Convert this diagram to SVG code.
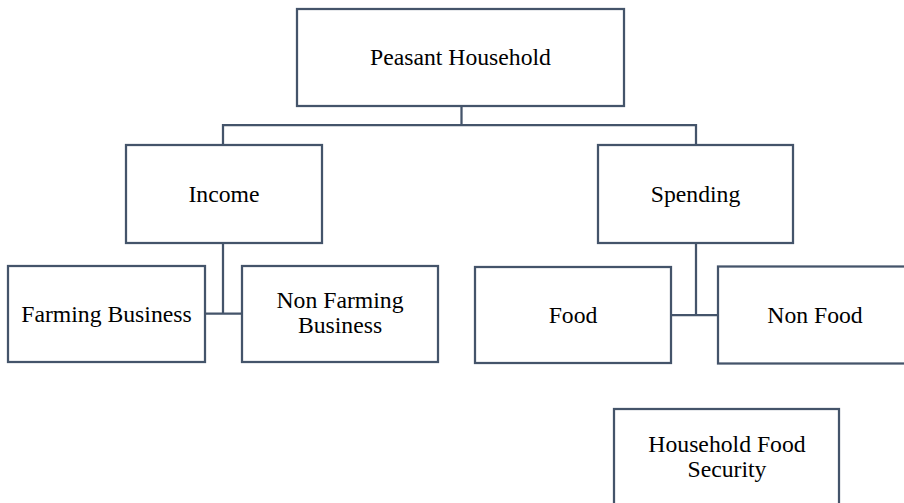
<svg xmlns="http://www.w3.org/2000/svg" width="904" height="503" viewBox="0 0 904 503">
<style>
.box{fill:#ffffff;stroke:#44546a;stroke-width:2.25}
.ln{fill:none;stroke:#44546a;stroke-width:2.25}
text{font-family:"Liberation Serif","Times New Roman",serif;font-size:23.7px;fill:#000;text-anchor:middle}
</style>
<rect width="904" height="503" fill="#ffffff"/>
<g id="connectors">
<path class="ln" d="M461.5,106 V125 M223,145 V125 H696 V145"/>
<path class="ln" d="M223,243 V313.5 M205,313.5 H242"/>
<path class="ln" d="M696,243 V315 M671,315 H718"/>
</g>
<g id="peasant-household">
<rect class="box" x="297" y="9" width="327" height="97"/>
<text x="460.5" y="65">Peasant Household</text>
</g>
<g id="income">
<rect class="box" x="126" y="145" width="196" height="98"/>
<text x="224" y="202">Income</text>
</g>
<g id="spending">
<rect class="box" x="598" y="145" width="195" height="98"/>
<text x="695.5" y="202">Spending</text>
</g>
<g id="farming-business">
<rect class="box" x="8" y="266" width="197" height="96"/>
<text x="106.5" y="322">Farming Business</text>
</g>
<g id="non-farming-business">
<rect class="box" x="242" y="266" width="196" height="96"/>
<text x="340" y="308">Non Farming</text>
<text x="340" y="333">Business</text>
</g>
<g id="food">
<rect class="box" x="475" y="267" width="196" height="96"/>
<text x="573" y="323">Food</text>
</g>
<g id="non-food">
<rect class="box" x="718" y="266.5" width="195" height="97"/>
<text x="815" y="323">Non Food</text>
</g>
<g id="household-food-security">
<rect class="box" x="614" y="409" width="225" height="98"/>
<text x="727" y="452">Household Food</text>
<text x="727" y="477">Security</text>
</g>
</svg>
